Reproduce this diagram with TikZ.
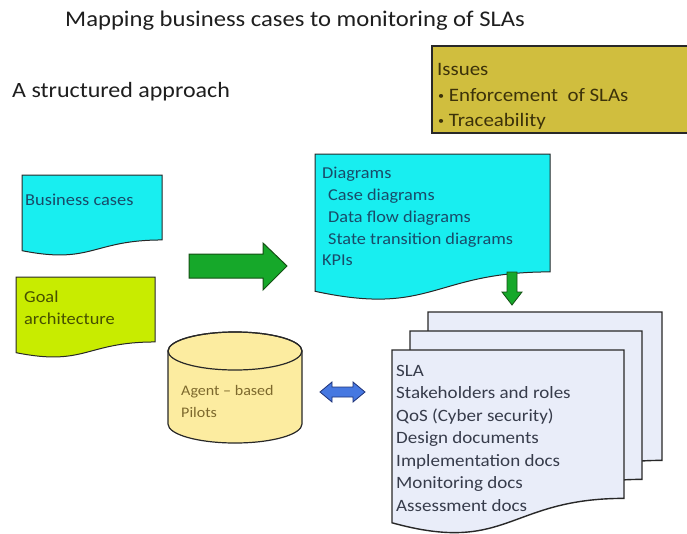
\documentclass[tikz,border=0pt]{standalone}
\usepackage{fontspec}
\setmainfont{Carlito}[FakeStretch=1.1]
\definecolor{cyanfill}{RGB}{24,238,240}
\definecolor{goalfill}{RGB}{200,236,0}
\definecolor{issuefill}{RGB}{208,190,62}
\definecolor{arrowgreen}{RGB}{22,168,42}
\definecolor{arrowdark}{RGB}{20,80,20}
\definecolor{cylfill}{RGB}{252,236,160}
\definecolor{dblblue}{RGB}{70,120,225}
\definecolor{dbldark}{RGB}{30,50,120}
\definecolor{slafill}{RGB}{233,237,249}
\definecolor{edge}{RGB}{40,40,40}
\definecolor{titlecol}{RGB}{30,30,30}
\definecolor{bluetext}{RGB}{25,75,105}
\definecolor{goaltext}{RGB}{70,80,0}
\definecolor{issuetext}{RGB}{60,50,10}
\definecolor{slatext}{RGB}{55,60,75}
\definecolor{cyltext}{RGB}{125,105,45}
\newcommand{\docshape}[6]{%
  \filldraw[fill=#5,draw=edge,line width=#6]
    (#1,#2) -- ({#1+#3},#2) -- ({#1+#3},{#2+0.802*#4})
    .. controls ({#1+0.5*#3},{#2+0.802*#4}) and ({#1+0.5*#3},{#2+1.107*#4}) ..
    (#1,{#2+0.934*#4}) -- cycle;}
\newcommand{\smallbul}{{\fontsize{11}{11}\selectfont\raisebox{0.25ex}{\textbullet}}}
\begin{document}
\begin{tikzpicture}[x=1pt,y=-1pt,
  txt/.style={anchor=base west,inner sep=0pt},
  fsz/.style={font=\fontsize{#1}{#1}\selectfont}]
\useasboundingbox (0,0) rectangle (687,533);
\fill[white] (0,0) rectangle (687,533);
% titles
\node[txt,fsz=22.4,text=titlecol] (title) at (65,26) {Mapping business cases to monitoring of SLAs};
\node[txt,fsz=21.8,text=titlecol] (approach) at (12,97) {A structured approach};
% issues box
\filldraw[fill=issuefill,draw=edge,line width=1.2pt] (432,46) rectangle (692,133);
\node[txt,fsz=19,text=issuetext] (iss1) at (437,75) {Issues};
\node[txt,fsz=19,text=issuetext] (iss2) at (438,101) {\smallbul\ Enforcement\ \ of SLAs};
\node[txt,fsz=19,text=issuetext] (iss3) at (438,126) {\smallbul\ Traceability};
% business cases
\docshape{22}{175}{140}{81}{cyanfill}{1pt}
\node[txt,fsz=16.7,text=bluetext] (bc) at (25,205) {Business cases};
% goal architecture
\docshape{16}{277}{139}{81}{goalfill}{1pt}
\node[txt,fsz=16.7,text=goaltext] (goal1) at (24,302) {Goal};
\node[txt,fsz=16.7,text=goaltext] (goal2) at (24,324) {architecture};
% big arrow
\filldraw[fill=arrowgreen,draw=arrowdark,line width=1pt]
  (189,254) -- (263,254) -- (263,243) -- (287,266) -- (263,290) -- (263,278) -- (189,278) -- cycle;
% diagrams
\docshape{315}{154}{235}{147}{cyanfill}{1pt}
\node[txt,fsz=16.6,text=bluetext] (d1) at (322,178) {Diagrams};
\node[txt,fsz=16.6,text=bluetext] (d2) at (328,200) {Case diagrams};
\node[txt,fsz=16.6,text=bluetext] (d3) at (328,222) {Data flow diagrams};
\node[txt,fsz=16.6,text=bluetext] (d4) at (328,244) {State transition diagrams};
\node[txt,fsz=16.6,text=bluetext] (d5) at (322,265) {KPIs};
% down arrow
\filldraw[fill=arrowgreen,draw=arrowdark,line width=0.8pt]
  (507,272) -- (517,272) -- (517,292) -- (522,292) -- (512,305) -- (502,292) -- (507,292) -- cycle;
% cylinder
\filldraw[fill=cylfill,draw=edge,line width=1.2pt]
  (168,351) -- (168,424) arc[start angle=180,end angle=360,x radius=67pt,y radius=19pt]
  -- (302,351) arc[start angle=0,end angle=180,x radius=67pt,y radius=19pt] -- cycle;
\draw[edge,line width=1.2pt] (235,351) ellipse[x radius=67pt,y radius=19pt];
\node[txt,fsz=14.6,text=cyltext] (cyl1) at (181,395) {Agent -- based};
\node[txt,fsz=14.6,text=cyltext] (cyl2) at (181,417) {Pilots};
% double arrow
\filldraw[fill=dblblue,draw=dbldark,line width=0.8pt]
  (320,392) -- (332,382) -- (332,387) -- (353,387) -- (353,382) -- (365,392)
  -- (353,402) -- (353,397) -- (332,397) -- (332,402) -- cycle;
% SLA stack
\docshape{428}{312}{234}{185}{slafill}{1.4pt}
\docshape{410}{331}{232}{185}{slafill}{1.4pt}
\docshape{392}{350}{232}{185}{slafill}{1.4pt}
\node[txt,fsz=17.3,text=slatext] (s1) at (396,376) {SLA};
\node[txt,fsz=17.3,text=slatext] (s2) at (396,398) {Stakeholders and roles};
\node[txt,fsz=17.3,text=slatext] (s3) at (396,421) {QoS (Cyber security)};
\node[txt,fsz=17.3,text=slatext] (s4) at (396,443) {Design documents};
\node[txt,fsz=17.3,text=slatext] (s5) at (396,466) {Implementation docs};
\node[txt,fsz=17.3,text=slatext] (s6) at (396,488) {Monitoring docs};
\node[txt,fsz=17.3,text=slatext] (s7) at (396,511) {Assessment docs};
\end{tikzpicture}
\end{document}
